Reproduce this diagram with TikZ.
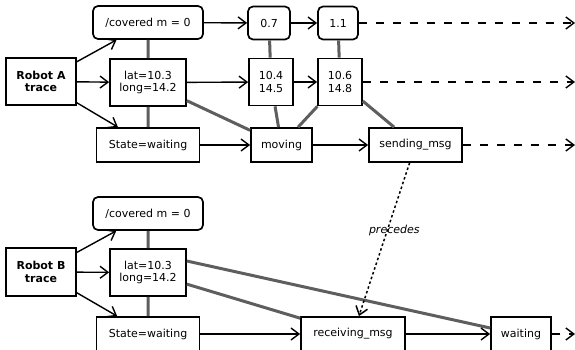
\documentclass[tikz,border=0pt]{standalone}
\usepackage{fontspec}
\setmainfont{DejaVu Sans}[BoldFont={DejaVu Sans Bold},ItalicFont={DejaVu Sans Oblique}]
\usetikzlibrary{arrows.meta}
\definecolor{linkgray}{HTML}{5E5E5E}
\tikzset{
 box/.style={draw,line width=1.7pt,fill=white,inner sep=0pt,align=center,font=\fontsize{11}{12.7}\selectfont},
 tracebox/.style={box,minimum width=70pt,minimum height=47pt,font=\fontsize{11}{12.7}\selectfont\bfseries},
 valbox/.style={box,rounded corners=5pt,minimum height=33pt},
 posbox/.style={box,minimum height=47pt},
 statebox/.style={box,minimum height=34pt},
 link/.style={linkgray,line width=3pt},
 nxt/.style={->,line width=1.4pt},
 more/.style={->,line width=1.4pt,dash pattern=on 8pt off 9pt},
 order/.style={->,line width=1.5pt,dash pattern=on 2.5pt off 2.5pt}
}

\begin{document}
\begin{tikzpicture}[x=1pt,y=-1pt,>={Straight Barb[length=8pt,width=12pt]}]
\useasboundingbox (0,0) rectangle (575,350);
\coordinate (rim) at (575,0);
\node[tracebox] (robA) at (41,81.5) {Robot A\\trace};
\node[valbox,minimum width=110pt] (covA) at (148,22.5) {/covered m = 0};
\node[valbox,minimum width=42pt] (covA2) at (269,23) {0.7};
\node[valbox,minimum width=40pt] (covA3) at (338,23) {1.1};
\node[posbox,minimum width=76pt] (latA) at (148,82.5) {lat=10.3\\long=14.2};
\node[posbox,minimum width=44pt] (latA2) at (271,82) {10.4\\14.5};
\node[posbox,minimum width=44pt] (latA3) at (340,82) {10.6\\14.8};
\node[statebox,minimum width=103pt] (stA) at (148,145) {State=waiting};
\node[statebox,minimum width=61pt] (stA2) at (281.5,145) {moving};
\node[statebox,minimum width=93pt] (stA3) at (415.5,145) {sending\_msg};
\node[tracebox,minimum height=48pt] (robB) at (41,272) {Robot B\\trace};
\node[valbox,minimum width=110pt] (covB) at (148,213.5) {/covered m = 0};
\node[posbox,minimum width=76pt] (latB) at (148,272.5) {lat=10.3\\long=14.2};
\node[statebox,minimum width=103pt] (stB) at (148,334) {State=waiting};
\node[statebox,minimum width=104pt] (stB2) at (353,334) {receiving\_msg};
\node[statebox,minimum width=60pt] (stB3) at (521,334) {waiting};
\draw[link] (covA)--(latA) (latA)--(stA) (covA2)--(latA2) (covA3)--(latA3);
\draw[link] (latA)--(stA2) (latA2)--(stA2) (latA3)--(stA2) (latA3)--(stA3);
\draw[link] (covB)--(latB) (latB)--(stB) (latB)--(stB2);
\draw[link] ([yshift=11.5pt]latB.east)--([yshift=6pt]stB3.west);
\foreach \r in {A,B} {
 \draw[nxt] (rob\r)--(cov\r);
 \draw[nxt] (rob\r)--(lat\r);
 \draw[nxt] (rob\r)--(st\r);
}
\draw[nxt] (covA)--(covA2);
\draw[nxt] (covA2)--(covA3);
\draw[nxt] (latA)--(latA2);
\draw[nxt] (latA2)--(latA3);
\draw[nxt] (stA)--(stA2);
\draw[nxt] (stA2)--(stA3);
\draw[nxt] (stB)--(stB2);
\draw[nxt] (stB2)--(stB3);
\foreach \n in {covA3,latA3,stA3,stB3}
 \draw[more] (\n.east)--(\n.east -| rim);
\draw[order] (stA3)--node[pos=.44,xshift=7pt,font=\fontsize{11}{12.7}\selectfont\itshape]{precedes} (stB2);
\end{tikzpicture}
\end{document}
